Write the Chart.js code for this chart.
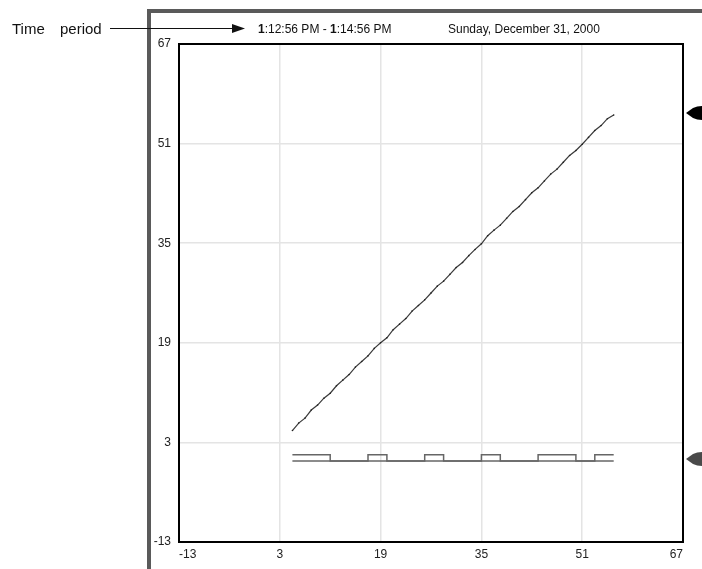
<!DOCTYPE html>
<html>
<head>
    <title>Time period chart</title>
    <script src="https://cdn.jsdelivr.net/npm/chart.js"></script>
    <style>
        body { margin: 0; background: #fff; }
    </style>
</head>
<body>
    <canvas id="trend-chart" width="702" height="569"></canvas>

    <script>
        // Axis ticks (same for x and y)
        const tickValues = [-13, 3, 19, 35, 51, 67];

        // Rising trace
        const rampX = [5, 6, 7, 8, 9, 10, 11, 12, 13, 14, 15, 16, 17, 18, 19, 20, 21, 22, 23, 24, 25, 26,
            27, 28, 29, 30, 31, 32, 33, 34, 35, 36, 37, 38, 39, 40, 41, 42, 43, 44, 45, 46, 47, 48, 49, 50,
            51, 52, 53, 54, 55, 56];
        const rampY = [4.9, 6.1, 6.9, 8.2, 9.0, 10.1, 10.9, 12.1, 13.0, 13.9, 15.1, 16.0, 16.9, 18.1, 19.0,
            19.8, 21.1, 22.0, 22.9, 24.1, 25.0, 25.9, 27.0, 28.1, 28.9, 30.0, 31.1, 31.9, 33.0, 34.0, 34.9,
            36.2, 37.1, 37.9, 39.0, 40.1, 40.9, 42.0, 43.1, 43.9, 45.0, 46.1, 46.9, 48.0, 49.1, 49.9, 50.9,
            52.0, 53.1, 53.9, 55.0, 55.6];

        // Digital (on/off) trace: level holds from each edge to the next
        const pulseX = [5, 11, 17, 20, 26, 29, 35, 38, 44, 50, 53, 56];
        const pulseY = [1, 0, 1, 0, 1, 0, 1, 0, 1, 0, 1, 1];

        // Flat reference under the digital trace
        const baseX = [5, 56];
        const baseY = [0, 0];

        const toPoints = (xs, ys) => xs.map((x, i) => ({ x: x, y: ys[i] }));

        const fontFamily = "'Liberation Sans', Arial, sans-serif";

        // frame, header texts and plot border
        const decorPlugin = {
            id: 'decor',
            beforeDraw(chart) {
                const ctx = chart.ctx;
                ctx.save();
                ctx.fillStyle = '#fff';
                ctx.fillRect(0, 0, chart.width, chart.height);
                // thick grey frame
                ctx.fillStyle = '#5a5a5a';
                ctx.fillRect(147, 9, 4, chart.height - 9);
                ctx.fillRect(147, 9, chart.width - 147, 4);

                // "Time period" callout with arrow
                ctx.fillStyle = '#111';
                ctx.font = '15px ' + fontFamily;
                ctx.textBaseline = 'alphabetic';
                ctx.fillText('Time', 12, 34);
                ctx.fillText('period', 60, 34);
                ctx.strokeStyle = '#111';
                ctx.lineWidth = 1;
                ctx.beginPath();
                ctx.moveTo(110, 28.5);
                ctx.lineTo(234, 28.5);
                ctx.stroke();
                ctx.beginPath();
                ctx.moveTo(245, 28.5);
                ctx.lineTo(232, 24);
                ctx.lineTo(232, 33);
                ctx.closePath();
                ctx.fill();

                // time range with bold leading digits
                let x = 258;
                const parts = [['1', true], [':12:56 PM - ', false], ['1', true], [':14:56 PM', false]];
                parts.forEach(([t, bold]) => {
                    ctx.font = (bold ? 'bold ' : '') + '12px ' + fontFamily;
                    ctx.fillText(t, x, 33);
                    x += ctx.measureText(t).width;
                });
                ctx.font = '12px ' + fontFamily;
                ctx.fillText('Sunday, December 31, 2000', 448, 33);
                ctx.restore();
            },
            afterDatasetsDraw(chart) {
                const ctx = chart.ctx;
                const a = chart.chartArea;
                ctx.save();
                ctx.strokeStyle = '#000';
                ctx.lineWidth = 2;
                ctx.strokeRect(a.left, a.top, a.right - a.left, a.bottom - a.top);

                // value markers on the right edge, at each trace's last value
                const yScale = chart.scales.y;
                const markers = [
                    { y: rampY[rampY.length - 1], color: '#000' },
                    { y: baseY[baseY.length - 1], color: '#4a4a4a' }
                ];
                markers.forEach(m => {
                    const py = yScale.getPixelForValue(m.y) - 2;
                    const x0 = a.right + 3;
                    ctx.fillStyle = m.color;
                    ctx.beginPath();
                    ctx.moveTo(x0, py);
                    ctx.lineTo(x0 + 7, py - 5);
                    ctx.quadraticCurveTo(x0 + 11, py - 7, x0 + 16, py - 7);
                    ctx.lineTo(x0 + 20, py - 7);
                    ctx.lineTo(x0 + 20, py + 7);
                    ctx.lineTo(x0 + 16, py + 7);
                    ctx.quadraticCurveTo(x0 + 11, py + 7, x0 + 7, py + 5);
                    ctx.closePath();
                    ctx.fill();
                });
                ctx.restore();
            }
        };

        const axisOptions = (isX) => ({
            type: 'linear',
            min: tickValues[0],
            max: tickValues[tickValues.length - 1],
            afterBuildTicks: scale => {
                scale.ticks = tickValues.map(v => ({ value: v }));
            },
            afterFit: scale => {
                if (isX) scale.height = 27;
                else scale.width = 29;
            },
            grid: {
                color: '#e4e4e4',
                lineWidth: 1.5,
                drawTicks: false
            },
            border: { display: false },
            ticks: {
                color: '#222',
                padding: isX ? 5 : 8,
                align: 'inner',
                maxRotation: 0,
                autoSkip: false,
                font: { size: 12, family: fontFamily }
            }
        });

        const ctx = document.getElementById('trend-chart').getContext('2d');
        new Chart(ctx, {
            type: 'scatter',
            data: {
                datasets: [
                    {
                        label: 'Base',
                        data: toPoints(baseX, baseY),
                        showLine: true,
                        borderColor: '#666',
                        borderWidth: 1.5,
                        pointRadius: 0
                    },
                    {
                        label: 'Pulse',
                        data: toPoints(pulseX, pulseY),
                        showLine: true,
                        stepped: 'before',
                        borderColor: '#666',
                        borderWidth: 1.5,
                        pointRadius: 0
                    },
                    {
                        label: 'Ramp',
                        data: toPoints(rampX, rampY),
                        showLine: true,
                        borderColor: '#3a3a3a',
                        borderWidth: 1.2,
                        pointRadius: 0.8,
                        pointBackgroundColor: '#222',
                        pointBorderWidth: 0
                    }
                ]
            },
            options: {
                responsive: false,
                animation: false,
                layout: { padding: { left: 150, right: 19, top: 44, bottom: 0 } },
                plugins: {
                    legend: { display: false },
                    title: { display: false },
                    tooltip: { enabled: false }
                },
                scales: {
                    x: axisOptions(true),
                    y: axisOptions(false)
                }
            },
            plugins: [decorPlugin]
        });
    </script>
</body>
</html>
